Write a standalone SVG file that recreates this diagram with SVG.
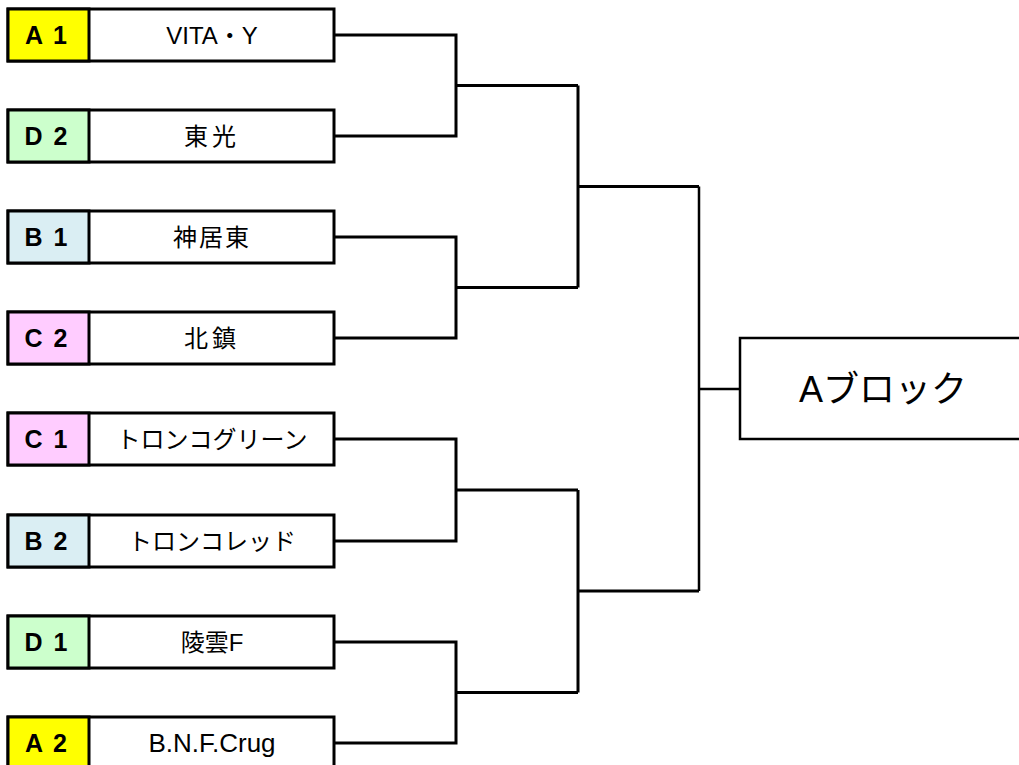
<svg xmlns="http://www.w3.org/2000/svg" width="1019" height="765" viewBox="0 0 1019 765">
<style>
.box{fill:#fff;stroke:#000;stroke-width:3}
.lbl{stroke:#000;stroke-width:3}
.ya{fill:#FFFF00}.gd{fill:#CCFFCC}.bb{fill:#DAEEF3}.pc{fill:#FFCCFF}
.lt{font-family:"Liberation Sans","Noto Sans CJK JP",sans-serif;font-size:25px;font-weight:bold;text-anchor:middle;fill:#000;letter-spacing:2px}
.nt{font-family:"Liberation Sans","Noto Sans CJK JP",sans-serif;font-size:26px;text-anchor:middle;fill:#000}
.jp{font-size:24px}
.ln{fill:none;stroke:#000;stroke-width:3}
.ln2{fill:none;stroke:#000;stroke-width:2.5}
.bt{font-family:"Liberation Sans","Noto Sans CJK JP",sans-serif;font-size:36px;text-anchor:middle;fill:#000}
</style>
<g id="connectors">
<path class="ln" d="M334,35 H456 V136 H334 M456,85.5 H578"/>
<path class="ln" d="M334,237 H456 V338 H334 M456,287.5 H578"/>
<path class="ln" d="M334,439 H456 V541 H334 M456,490 H578"/>
<path class="ln" d="M334,642 H456 V743 H334 M456,692.5 H578"/>
<path class="ln" d="M578,85.5 V287.5 M578,186.5 H699"/>
<path class="ln" d="M578,490 V692.5 M578,591 H699"/>
<path class="ln2" d="M699,186.5 V591 M699,389 H740"/>
</g>
<g id="team-A1">
<rect class="box" x="8" y="9" width="326" height="52"/>
<rect class="lbl ya" x="8" y="9" width="81" height="52"/>
<text class="lt" x="47" y="44">A 1</text>
<text class="nt jp" x="212" y="44">VITA・Y</text>
</g>
<g id="team-D2">
<rect class="box" x="8" y="110" width="326" height="52"/>
<rect class="lbl gd" x="8" y="110" width="81" height="52"/>
<text class="lt" x="47" y="145">D 2</text>
<text class="nt jp" x="212" y="145" letter-spacing="4">東光</text>
</g>
<g id="team-B1">
<rect class="box" x="8" y="211" width="326" height="52"/>
<rect class="lbl bb" x="8" y="211" width="81" height="52"/>
<text class="lt" x="47" y="246">B 1</text>
<text class="nt jp" x="212" y="246" letter-spacing="2">神居東</text>
</g>
<g id="team-C2">
<rect class="box" x="8" y="312" width="326" height="52"/>
<rect class="lbl pc" x="8" y="312" width="81" height="52"/>
<text class="lt" x="47" y="347">C 2</text>
<text class="nt jp" x="212" y="347" letter-spacing="4">北鎮</text>
</g>
<g id="team-C1">
<rect class="box" x="8" y="413" width="326" height="52"/>
<rect class="lbl pc" x="8" y="413" width="81" height="52"/>
<text class="lt" x="47" y="448">C 1</text>
<text class="nt jp" x="212" y="448">トロンコグリーン</text>
</g>
<g id="team-B2">
<rect class="box" x="8" y="515" width="326" height="52"/>
<rect class="lbl bb" x="8" y="515" width="81" height="52"/>
<text class="lt" x="47" y="550">B 2</text>
<text class="nt jp" x="212" y="550">トロンコレッド</text>
</g>
<g id="team-D1">
<rect class="box" x="8" y="616" width="326" height="52"/>
<rect class="lbl gd" x="8" y="616" width="81" height="52"/>
<text class="lt" x="47" y="651">D 1</text>
<text class="nt jp" x="212" y="651">陵雲F</text>
</g>
<g id="team-A2">
<rect class="box" x="8" y="717" width="326" height="52"/>
<rect class="lbl ya" x="8" y="717" width="81" height="52"/>
<text class="lt" x="47" y="752">A 2</text>
<text class="nt" x="212" y="752">B.N.F.Crug</text>
</g>
<g id="block-A">
<rect x="740" y="338" width="300" height="101" fill="#fff" stroke="#000" stroke-width="2.5"/>
<text class="bt" x="883" y="402">Aブロック</text>
</g>
</svg>
